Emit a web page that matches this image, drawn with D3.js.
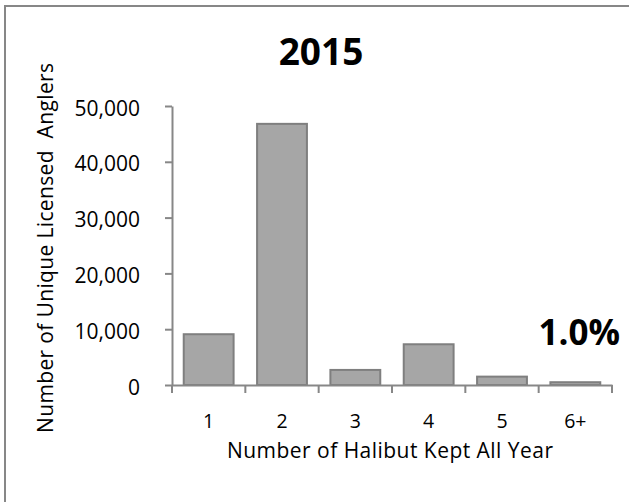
<!DOCTYPE html>
<meta charset="utf-8">
<head>
<style>
  body { margin: 0; background: #fff; }
  text { font-family: "Open Sans", sans-serif; fill: #000; }
</style>
</head>
<svg id="chart" width="629" height="502"></svg>
<script src="https://d3js.org/d3.v7.min.js"></script>
<script>

// data
var categories = ["1", "2", "3", "4", "5", "6+"];
var anglers = [9100, 46800, 2700, 7300, 1500, 500];
var yTicks = [0, 10000, 20000, 30000, 40000, 50000];

var svg = d3.select("#chart");

// chart frame (runs off the right and bottom edge)
svg.append("rect")
  .attr("x", 5).attr("y", 6)
  .attr("width", 700).attr("height", 600)
  .attr("fill", "none")
  .attr("stroke", "#878787")
  .attr("stroke-width", 2);

var x = d3.scaleBand()
  .domain(categories)
  .range([172, 612])
  .paddingInner(0.32)
  .paddingOuter(0.16);

var y = d3.scaleLinear()
  .domain([0, 50000])
  .range([385, 106]);

// bars
svg.append("g")
  .selectAll("rect")
  .data(anglers)
  .enter()
  .append("rect")
    .attr("x", function(d, i) { return x(categories[i]); })
    .attr("y", function(d) { return y(d); })
    .attr("width", x.bandwidth())
    .attr("height", function(d) { return y(0) - y(d); })
    .attr("fill", "#a6a6a6")
    .attr("stroke", "#7f7f7f")
    .attr("stroke-width", 2);

// y axis
var yAxis = svg.append("g")
  .attr("transform", "translate(172,0)")
  .call(d3.axisLeft(y).tickValues(yTicks).tickSize(7).tickSizeOuter(0).tickPadding(25)
    .tickFormat(d3.format(",")));
yAxis.selectAll(".tick text")
  .style("font-size", "21px")
  .attr("dy", "0.43em");

// x axis, ticks sit between categories
var xAxis = svg.append("g")
  .attr("transform", "translate(0,385)")
  .call(d3.axisBottom(x).tickSize(0).tickSizeOuter(0));
xAxis.selectAll(".tick text")
  .style("font-size", "19.5px")
  .attr("y", 43)
  .attr("dy", 0);

var edges = d3.range(categories.length + 1).map(function(i) {
  return x.range()[0] + i * (x.range()[1] - x.range()[0]) / categories.length;
});
xAxis.selectAll(".sep")
  .data(edges)
  .enter()
  .append("line")
    .attr("class", "sep")
    .attr("x1", function(d) { return d; })
    .attr("x2", function(d) { return d; })
    .attr("y1", 0).attr("y2", 8);

svg.selectAll(".domain, .tick line, .sep")
  .attr("stroke", "#878787")
  .attr("stroke-width", 2);
svg.selectAll(".tick text")
  .style("font-family", "'Open Sans', sans-serif")
  .attr("fill", "#000");

// titles
svg.append("text")
  .attr("x", 321).attr("y", 65)
  .attr("text-anchor", "middle")
  .style("font-size", "37px").style("font-weight", "bold")
  .text("2015");

svg.append("text")
  .attr("transform", "translate(53,248) rotate(-90)")
  .attr("text-anchor", "middle")
  .attr("textLength", 370)
  .attr("lengthAdjust", "spacing")
  .style("font-size", "21px")
  .style("white-space", "pre")
  .text("Number of Unique Licensed  Anglers");

svg.append("text")
  .attr("x", 390).attr("y", 458)
  .attr("text-anchor", "middle")
  .attr("textLength", 326)
  .attr("lengthAdjust", "spacing")
  .style("font-size", "21px")
  .text("Number of Halibut Kept All Year");

svg.append("text")
  .attr("x", 620).attr("y", 345)
  .attr("text-anchor", "end")
  .style("font-size", "35px").style("font-weight", "bold")
  .text("1.0%");

</script>
